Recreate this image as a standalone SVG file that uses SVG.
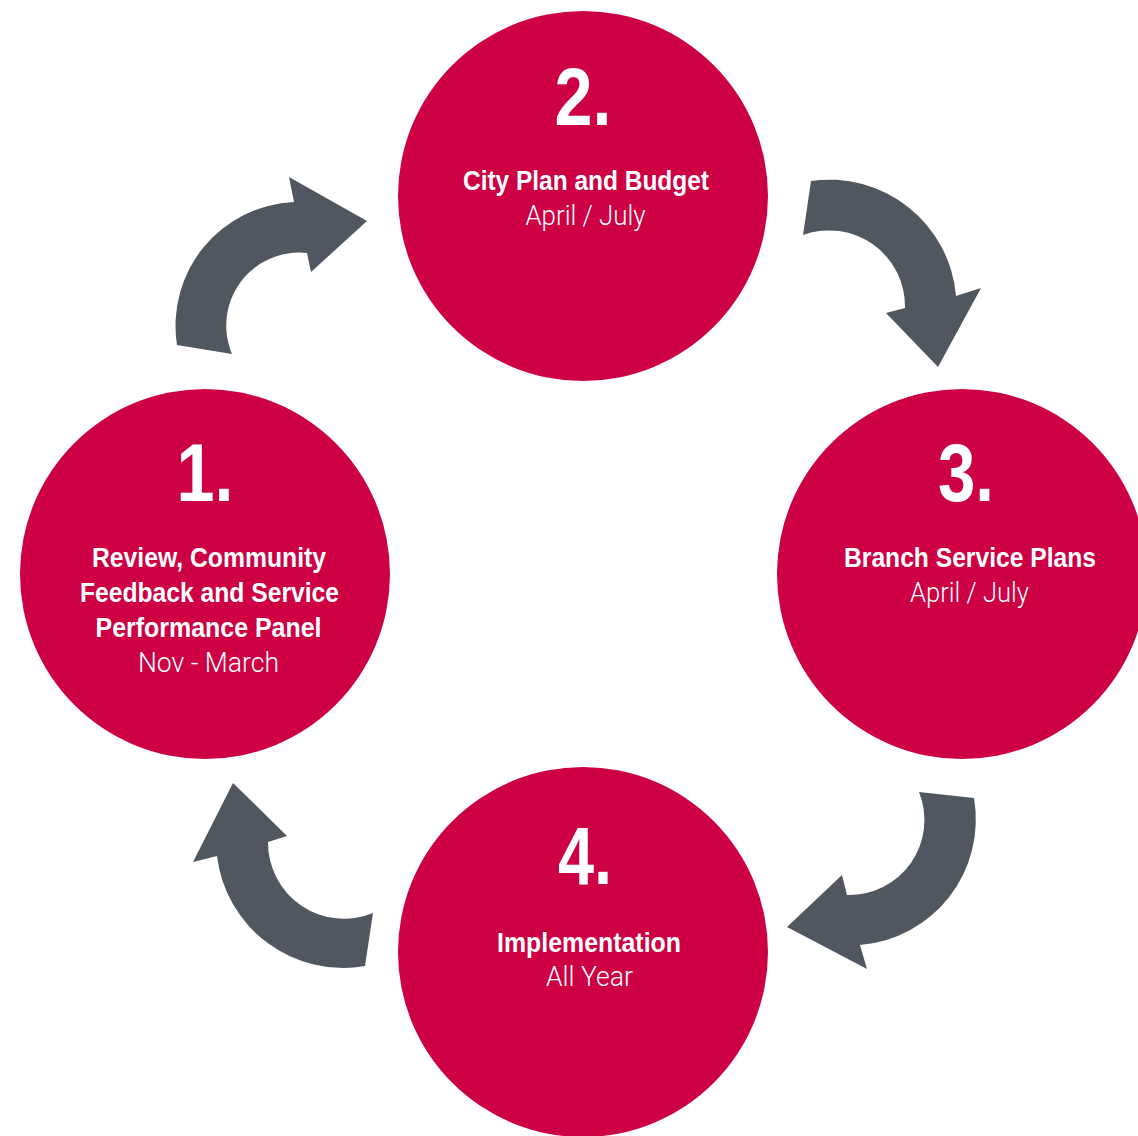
<svg xmlns="http://www.w3.org/2000/svg" width="1138" height="1136" viewBox="0 0 1138 1136">
<style>
.node circle{fill:#CC0043}
.arrow{fill:#50575E}
text{fill:#fff;text-anchor:middle}
.num{font-family:"Liberation Sans",Arial,sans-serif;font-weight:bold;font-size:82px}
.b{font-family:"Liberation Sans",Arial,sans-serif;font-weight:bold;font-size:27px}
.l{font-family:Roboto,"Liberation Sans",Arial,sans-serif;font-weight:300;font-size:28px}
</style>
<rect width="1138" height="1136" fill="#fff"/>
<g id="connectors">
<path class="arrow" d="M177,345 A124,124 0 0 1 294,202 L289,177 L367,221 L311,272 L307,253 A73,73 0 0 0 232,354 Z"/>
<path class="arrow" d="M811,181 A127,127 0 0 1 956,296 L981,288 L938,367 L886,313 L905,308 A76,76 0 0 0 803,235 Z"/>
<path class="arrow" d="M974,798 A126,126 0 0 1 860,945 L867,969 L787,927 L842,875 L847,895 A75,75 0 0 0 919,792 Z"/>
<path class="arrow" d="M365,966 A127,127 0 0 1 217,856 L193,862 L233,783 L287,836 L268,842 A76,76 0 0 0 373,913 Z"/>
</g>
<g id="node2" class="node">
<circle cx="583" cy="196" r="185"/>
<text class="num" x="583" y="125" textLength="57" lengthAdjust="spacingAndGlyphs">2.</text>
<text class="b" x="586" y="190" textLength="246" lengthAdjust="spacingAndGlyphs">City Plan and Budget</text>
<text class="l" x="585.5" y="225" textLength="120" lengthAdjust="spacingAndGlyphs">April / July</text>
</g>
<g id="node1" class="node">
<circle cx="205" cy="574" r="185"/>
<text class="num" x="205" y="501" textLength="57" lengthAdjust="spacingAndGlyphs">1.</text>
<text class="b" x="209" y="567" textLength="234" lengthAdjust="spacingAndGlyphs">Review, Community</text>
<text class="b" x="209.5" y="602" textLength="259" lengthAdjust="spacingAndGlyphs">Feedback and Service</text>
<text class="b" x="208.5" y="637" textLength="226" lengthAdjust="spacingAndGlyphs">Performance Panel</text>
<text class="l" x="208.5" y="672" textLength="141" lengthAdjust="spacingAndGlyphs">Nov - March</text>
</g>
<g id="node3" class="node">
<circle cx="962" cy="574" r="185"/>
<text class="num" x="966" y="501" textLength="56" lengthAdjust="spacingAndGlyphs">3.</text>
<text class="b" x="970" y="567" textLength="252" lengthAdjust="spacingAndGlyphs">Branch Service Plans</text>
<text class="l" x="969.5" y="602" textLength="119" lengthAdjust="spacingAndGlyphs">April / July</text>
</g>
<g id="node4" class="node">
<circle cx="583" cy="952" r="185"/>
<text class="num" x="585" y="884" textLength="54" lengthAdjust="spacingAndGlyphs">4.</text>
<text class="b" x="589" y="952" textLength="184" lengthAdjust="spacingAndGlyphs">Implementation</text>
<text class="l" x="589.5" y="986" textLength="87" lengthAdjust="spacingAndGlyphs">All Year</text>
</g>
</svg>
